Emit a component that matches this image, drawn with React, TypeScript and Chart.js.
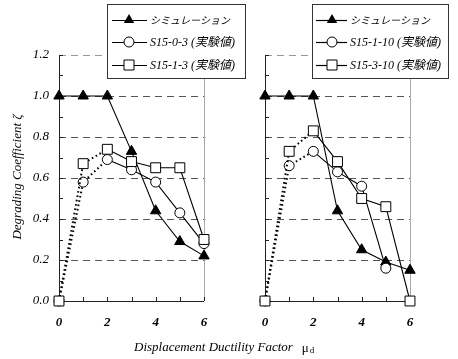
import React, { useEffect, useRef } from 'react';
import { Chart, registerables } from 'chart.js';
Chart.register(...registerables);

const ductility = [0, 1, 2, 3, 4, 5, 6];
const yTicks = [0, 0.2, 0.4, 0.6, 0.8, 1.0, 1.2];

const leftSimulation = [1.0, 1.0, 1.0, 0.73, 0.44, 0.29, 0.22];
const leftS1503 = [0.0, 0.58, 0.69, 0.64, 0.58, 0.43, 0.28];
const leftS1513 = [0.0, 0.67, 0.74, 0.68, 0.65, 0.65, 0.3];

const rightSimulation = [1.0, 1.0, 1.0, 0.44, 0.25, 0.19, 0.15];
const rightS15110 = [0.0, 0.66, 0.73, 0.63, 0.56, 0.16, null];
const rightS15310 = [0.0, 0.73, 0.83, 0.68, 0.5, 0.46, 0.0];

const leftLabels = ['シミュレーション', 'S15-0-3 (実験値)', 'S15-1-3 (実験値)'];
const rightLabels = ['シミュレーション', 'S15-1-10 (実験値)', 'S15-3-10 (実験値)'];

const xTitle = 'Displacement Ductility Factor';
const yTitle = 'Degrading Coefficient ζ';

const SERIF = '"Liberation Serif", "DejaVu Serif", "Noto Sans CJK JP", serif';

function drawMarker(ctx: CanvasRenderingContext2D, kind: string, x: number, y: number) {
  ctx.save();
  ctx.lineWidth = 1;
  ctx.strokeStyle = '#000';
  ctx.beginPath();
  if (kind === 'triangle') {
    const r = 6;
    ctx.moveTo(x, y - r);
    ctx.lineTo(x + r * 0.866, y + r * 0.5);
    ctx.lineTo(x - r * 0.866, y + r * 0.5);
    ctx.closePath();
    ctx.fillStyle = '#000';
    ctx.fill();
  } else if (kind === 'circle') {
    ctx.arc(x, y, 5, 0, Math.PI * 2);
    ctx.fillStyle = '#fff';
    ctx.fill();
    ctx.stroke();
  } else {
    ctx.rect(x - 5, y - 5, 10, 10);
    ctx.fillStyle = '#fff';
    ctx.fill();
    ctx.stroke();
  }
  ctx.restore();
}

function makePlugin(isLeft: boolean, labels: string[]) {
  return {
    id: 'frame' + (isLeft ? 'L' : 'R'),
    beforeDatasetsDraw(chart: any) {
      const { ctx, chartArea } = chart;
      const xs = chart.scales.x;
      const ys = chart.scales.y;
      const { left, right, top, bottom } = chartArea;
      ctx.save();
      ctx.lineWidth = 1;
      ctx.setLineDash([7, 5]);
      for (const v of yTicks) {
        if (v === 0) continue;
        const y = Math.round(ys.getPixelForValue(v)) + 0.5;
        ctx.strokeStyle = v === 1.2 ? '#999' : '#555';
        ctx.beginPath();
        ctx.moveTo(left, y);
        ctx.lineTo(right, y);
        ctx.stroke();
      }
      ctx.setLineDash([]);
      ctx.strokeStyle = '#aaa';
      ctx.beginPath();
      ctx.moveTo(Math.round(right) + 0.5, top);
      ctx.lineTo(Math.round(right) + 0.5, bottom);
      ctx.stroke();
      ctx.strokeStyle = '#222';
      ctx.beginPath();
      ctx.moveTo(Math.round(left) + 0.5, top);
      ctx.lineTo(Math.round(left) + 0.5, bottom);
      ctx.moveTo(left, Math.round(bottom) + 0.5);
      ctx.lineTo(right, Math.round(bottom) + 0.5);
      ctx.stroke();
      ctx.beginPath();
      for (let i = 0; i <= 12; i++) {
        const y = Math.round(ys.getPixelForValue(i / 10)) + 0.5;
        ctx.moveTo(left, y);
        ctx.lineTo(left + 4, y);
      }
      for (const v of ductility) {
        const x = Math.round(xs.getPixelForValue(v)) + 0.5;
        ctx.moveTo(x, bottom);
        ctx.lineTo(x, bottom - 4);
      }
      ctx.stroke();
      ctx.restore();
    },
    afterDraw(chart: any) {
      const { ctx } = chart;
      ctx.save();
      const box = isLeft ? { x: 107, y: 4, w: 138, h: 74 } : { x: 312, y: 4, w: 136, h: 74 };
      const lineX0 = isLeft ? 112 : 316;
      const lineX1 = isLeft ? 147 : 347;
      const markX = isLeft ? 129 : 332;
      const textX = isLeft ? 150 : 350;
      ctx.fillStyle = '#fff';
      ctx.fillRect(box.x, box.y, box.w, box.h);
      ctx.strokeStyle = '#333';
      ctx.lineWidth = 1;
      ctx.strokeRect(box.x + 0.5, box.y + 0.5, box.w, box.h);
      const kinds = ['triangle', 'circle', 'rect'];
      const rows = [20, 42, 65];
      labels.forEach((lab, i) => {
        const y = rows[i];
        ctx.strokeStyle = '#000';
        ctx.lineWidth = 1.2;
        ctx.beginPath();
        ctx.moveTo(lineX0, y + 0.5);
        ctx.lineTo(lineX1, y + 0.5);
        ctx.stroke();
        drawMarker(ctx, kinds[i], markX, y);
        ctx.fillStyle = '#000';
        ctx.font = (i === 0 ? 'italic 10px ' : 'italic 12px ') + SERIF;
        ctx.textBaseline = 'middle';
        ctx.textAlign = 'left';
        ctx.fillText(lab, textX, y + 1);
      });
      if (isLeft) {
        ctx.save();
        ctx.translate(18, 177);
        ctx.rotate(-Math.PI / 2);
        ctx.font = 'italic 13px ' + SERIF;
        ctx.textAlign = 'center';
        ctx.textBaseline = 'middle';
        ctx.fillStyle = '#000';
        ctx.fillText(yTitle, 0, 0);
        ctx.restore();
        ctx.font = 'italic 13px ' + SERIF;
        ctx.textAlign = 'left';
        ctx.textBaseline = 'middle';
        ctx.fillStyle = '#000';
        ctx.fillText(xTitle, 134, 348);
        const w = ctx.measureText(xTitle).width;
        ctx.font = '13px ' + SERIF;
        const mx = 134 + w + 9;
        ctx.fillText('μ', mx, 349);
        const mw = ctx.measureText('μ').width;
        ctx.font = '9px ' + SERIF;
        ctx.fillText('d', mx + mw + 1, 351);
      }
      ctx.restore();
    },
  };
}

function dottedSeg() {
  return {
    borderDash: (c: any) => (c.p0DataIndex < 2 ? [1.6, 2.8] : undefined),
    borderWidth: (c: any) => (c.p0DataIndex < 2 ? 2 : 1.1),
  };
}

function makeConfig(isLeft: boolean) {
  const sim = isLeft ? leftSimulation : rightSimulation;
  const a = isLeft ? leftS1503 : rightS15110;
  const b = isLeft ? leftS1513 : rightS15310;
  const labels = isLeft ? leftLabels : rightLabels;
  const pts = (arr: (number | null)[]) => ductility.map((x, i) => ({ x, y: arr[i] }));
  return {
    type: 'line',
    data: {
      datasets: [
        {
          label: labels[2],
          data: pts(b),
          borderColor: '#000',
          backgroundColor: '#fff',
          pointBackgroundColor: '#fff',
          pointBorderColor: '#000',
          pointStyle: 'rect',
          pointRadius: 7,
          pointBorderWidth: 1,
          borderWidth: 1.1,
          segment: dottedSeg(),
          spanGaps: false,
          clip: false,
        },
        {
          label: labels[1],
          data: pts(a),
          borderColor: '#000',
          backgroundColor: '#fff',
          pointBackgroundColor: '#fff',
          pointBorderColor: '#000',
          pointStyle: 'circle',
          pointRadius: 5,
          pointBorderWidth: 1,
          borderWidth: 1.1,
          segment: dottedSeg(),
          spanGaps: false,
          clip: false,
        },
        {
          label: labels[0],
          data: pts(sim),
          borderColor: '#000',
          backgroundColor: '#000',
          pointBackgroundColor: '#000',
          pointBorderColor: '#000',
          pointStyle: 'triangle',
          pointRadius: 6,
          pointBorderWidth: 1,
          borderWidth: 1.1,
          clip: false,
        },
      ],
    },
    options: {
      responsive: false,
      animation: false,
      layout: {
        padding: { left: isLeft ? 0 : 265, right: isLeft ? 254 : 48, top: 55, bottom: 0 },
      },
      plugins: { legend: { display: false }, tooltip: { enabled: false } },
      scales: {
        x: {
          type: 'linear',
          min: 0,
          max: 6,
          ticks: {
            stepSize: 2,
            padding: 14,
            color: '#000',
            font: { family: SERIF, size: 13, style: 'italic', weight: 'bold' },
          },
          grid: { display: false, drawTicks: false },
          border: { display: false },
          afterFit: (s: any) => {
            s.height = 58;
          },
        },
        y: {
          min: 0,
          max: 1.2,
          ticks: {
            display: isLeft,
            stepSize: 0.2,
            padding: 10,
            color: '#000',
            font: { family: SERIF, size: 13, style: 'italic' },
            callback: (v: any) => Number(v).toFixed(1),
          },
          grid: { display: false, drawTicks: false },
          border: { display: false },
          afterFit: (s: any) => {
            s.width = isLeft ? 59 : 0;
          },
        },
      },
    },
    plugins: [makePlugin(isLeft, labels)],
  };
}

export default function App() {
  const leftRef = useRef<HTMLCanvasElement>(null);
  const rightRef = useRef<HTMLCanvasElement>(null);
  useEffect(() => {
    const c1 = new Chart(leftRef.current as any, makeConfig(true) as any);
    const c2 = new Chart(rightRef.current as any, makeConfig(false) as any);
    return () => {
      c1.destroy();
      c2.destroy();
    };
  }, []);
  const st: React.CSSProperties = { position: 'absolute', left: 0, top: 0, width: 458, height: 359 };
  return (
    <div style={{ position: 'fixed', left: 0, top: 0, width: 458, height: 359, background: '#fff' }}>
      <canvas ref={leftRef} width={458} height={359} style={st} />
      <canvas ref={rightRef} width={458} height={359} style={st} />
    </div>
  );
}
